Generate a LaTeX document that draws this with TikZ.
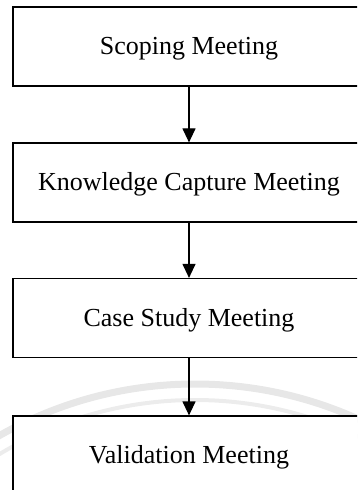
\documentclass[tikz,border=0pt]{standalone}
\usepackage{fontspec}
\setmainfont{Liberation Serif}
\usetikzlibrary{arrows.meta}

\definecolor{markgray}{HTML}{E7E7E7}
\definecolor{markgraylight}{HTML}{ECECEC}

\tikzset{
  meeting/.style={draw=black, line width=0.6pt, fill=white, rectangle,
    minimum width=176pt, minimum height=39.5pt, inner sep=0pt,
    font=\fontsize{13pt}{15pt}\selectfont, text height=9pt, text depth=1pt},
  flow/.style={draw=black, line width=0.6pt,
    -{Triangle[length=7pt,width=6.5pt]}}
}

\begin{document}
\begin{tikzpicture}[x=0.5pt, y=-0.5pt]
  \useasboundingbox (0,0) rectangle (357,490);
  \clip (0,0) rectangle (357,490);

  % faint seal rings in the background
  \coordinate (seal) at (195,780);
  \draw[markgray, line width=3.5pt] (seal) circle[radius=396];
  \draw[markgraylight, line width=2pt] (seal) circle[radius=380];

  % the four meetings, top to bottom
  \node[meeting] (scope) at (189,46.5)  {Scoping Meeting};
  \node[meeting] (know)  at (189,182.5) {Knowledge Capture Meeting};
  \node[meeting] (case)  at (189,318)   {Case Study Meeting};
  \node[meeting] (valid) at (189,455.5) {Validation Meeting};

  % sequence arrows
  \draw[flow] (scope.south) -- (know.north);
  \draw[flow] (know.south)  -- (case.north);
  \draw[flow] (case.south)  -- (valid.north);
\end{tikzpicture}
\end{document}
